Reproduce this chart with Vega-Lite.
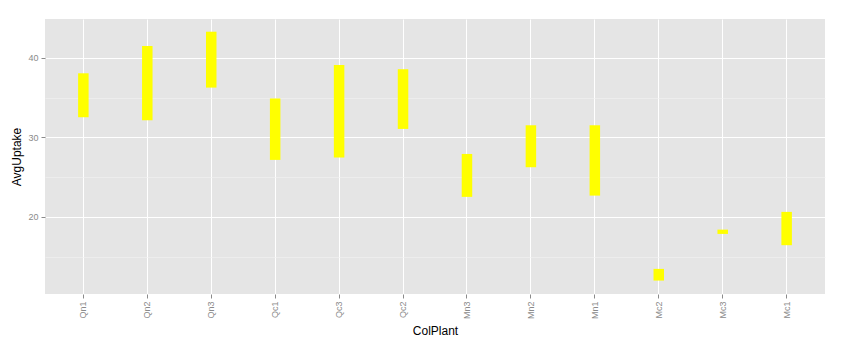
{
  "$schema": "https://vega.github.io/schema/vega-lite/v6.json",
  "width": 780,
  "height": 275,
  "autosize": {"type": "none"},
  "padding": {"left": 45, "top": 19, "right": 19, "bottom": 54},
  "background": "white",
  "config": {
    "view": {"fill": "#E5E5E5", "stroke": null},
    "font": "Liberation Sans"
  },
  "data": {
    "values": [
      {"ColPlant": "Qn1", "lo": 32.54, "hi": 38.07},
      {"ColPlant": "Qn2", "lo": 32.16, "hi": 41.5},
      {"ColPlant": "Qn3", "lo": 36.27, "hi": 43.3},
      {"ColPlant": "Qc1", "lo": 27.17, "hi": 34.9},
      {"ColPlant": "Qc3", "lo": 27.46, "hi": 39.12},
      {"ColPlant": "Qc2", "lo": 31.07, "hi": 38.58},
      {"ColPlant": "Mn3", "lo": 22.52, "hi": 27.92},
      {"ColPlant": "Mn2", "lo": 26.25, "hi": 31.53},
      {"ColPlant": "Mn1", "lo": 22.68, "hi": 31.53},
      {"ColPlant": "Mc2", "lo": 11.99, "hi": 13.46},
      {"ColPlant": "Mc3", "lo": 17.86, "hi": 18.4},
      {"ColPlant": "Mc1", "lo": 16.44, "hi": 20.63}
    ]
  },
  "mark": {"type": "bar", "color": "#FFFF00", "width": 10.5},
  "encoding": {
    "x": {
      "field": "ColPlant",
      "type": "nominal",
      "sort": null,
      "scale": {"paddingInner": 0, "paddingOuter": 0.1},
      "axis": {
        "title": "ColPlant",
        "titleFont": "Liberation Sans",
        "titleFontSize": 12,
        "titleFontWeight": "normal",
        "titleColor": "#000000",
        "titlePadding": 7,
        "labelAngle": 270,
        "labelFontSize": 9,
        "labelColor": "#8A8A8A",
        "labelPadding": 3,
        "tickColor": "#8A8A8A",
        "tickSize": 4,
        "domain": false,
        "grid": true,
        "gridColor": "#FFFFFF",
        "gridWidth": 1
      }
    },
    "y": {
      "field": "lo",
      "type": "quantitative",
      "scale": {"domain": [10.3, 44.9], "nice": false, "zero": false},
      "axis": {
        "title": "AvgUptake",
        "titleFont": "Liberation Sans",
        "titleFontSize": 12,
        "titleFontWeight": "normal",
        "titleColor": "#000000",
        "titlePadding": 4,
        "values": [15, 20, 25, 30, 35, 40],
        "labelExpr": "datum.value % 10 === 0 ? datum.label : ''",
        "labelFontSize": 9,
        "labelColor": "#8A8A8A",
        "labelPadding": 3,
        "tickColor": "#8A8A8A",
        "tickSize": 4,
        "tickOpacity": {"condition": {"test": "datum.value % 10 === 0", "value": 1}, "value": 0},
        "domain": false,
        "grid": true,
        "gridColor": {"condition": {"test": "datum.value % 10 === 0", "value": "#FFFFFF"}, "value": "#F2F2F2"},
        "gridWidth": {"condition": {"test": "datum.value % 10 === 0", "value": 1}, "value": 0.6}
      }
    },
    "y2": {"field": "hi"}
  }
}
